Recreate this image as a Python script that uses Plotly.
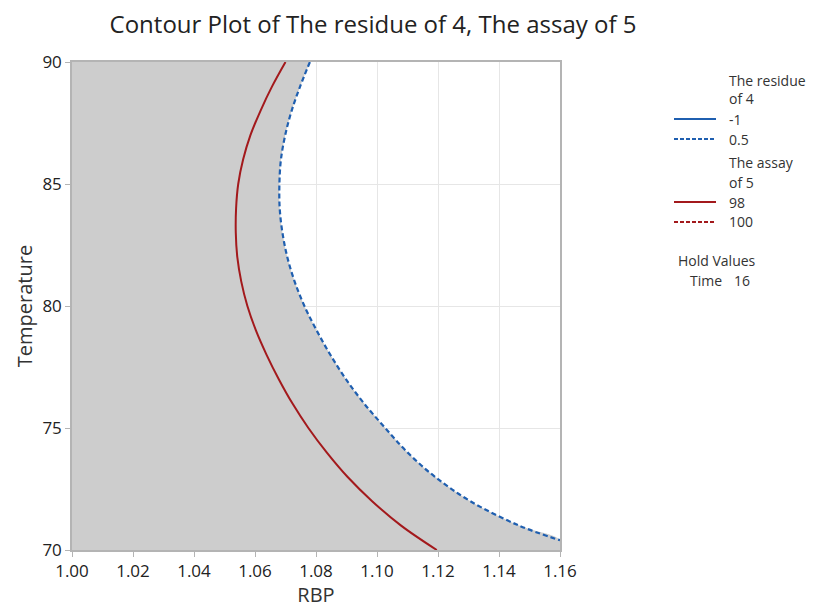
import plotly.graph_objects as go

temp_grid = [90, 89, 88, 87, 86, 85, 84, 83, 82, 81, 80, 79, 78, 77, 76, 75, 74, 73, 72, 71]

# The assay of 5 = 98 (solid red)
red_temp = temp_grid + [70]
red_rbp = [1.0700, 1.0656, 1.0618, 1.0585, 1.0561, 1.0545, 1.0538, 1.0537, 1.0542, 1.0555,
           1.0575, 1.0603, 1.0638, 1.0678, 1.0723, 1.0775, 1.0835, 1.0903, 1.0984, 1.1079,
           1.1196]

# The residue of 4 = 0.5 (dashed blue)
blue_temp = temp_grid + [70.40]
blue_rbp = [1.0780, 1.0748, 1.0720, 1.0699, 1.0685, 1.0680, 1.0681, 1.0690, 1.0706, 1.0730,
            1.0762, 1.0802, 1.0847, 1.0898, 1.0958, 1.1027, 1.1100, 1.1190, 1.1306, 1.1466,
            1.1600]

x_range = [1.00, 1.16]
y_range = [70, 90]
x_ticks = [1.00, 1.02, 1.04, 1.06, 1.08, 1.10, 1.12, 1.14, 1.16]
y_ticks = [70, 75, 80, 85, 90]

FONT = "Open Sans"
TXT = "#222222"
GREY_FILL = "#CDCDCD"
BLUE = "#1F5FB0"
RED = "#A3191C"
SMOOTH = 1.0

fig = go.Figure()

# feasible (grey) region: everything left of / below the blue 0.5 contour
fig.add_trace(go.Scatter(x=blue_rbp + [x_range[1]], y=blue_temp + [y_range[0]],
                         fill="tozerox", fillcolor=GREY_FILL, mode="lines",
                         line=dict(width=0, shape="spline", smoothing=SMOOTH),
                         hoverinfo="skip", showlegend=False))

fig.add_trace(go.Scatter(x=red_rbp, y=red_temp, mode="lines",
                         line=dict(color=RED, width=2, shape="spline", smoothing=SMOOTH),
                         showlegend=False))
fig.add_trace(go.Scatter(x=blue_rbp, y=blue_temp, mode="lines",
                         line=dict(color=BLUE, width=2.2, dash="5px,3px", shape="spline", smoothing=SMOOTH),
                         showlegend=False))

fig.update_xaxes(range=x_range, tickvals=x_ticks, ticktext=[f"{v:.2f}" for v in x_ticks],
                 showgrid=True, gridcolor="#E6E6E6", gridwidth=1, zeroline=False,
                 showline=True, linecolor="#B4B4B4", linewidth=1.5, mirror=True,
                 ticks="outside", ticklen=5, tickcolor="#B4B4B4", automargin=False,
                 tickfont=dict(family=FONT, size=17, color=TXT),
                 title=dict(text="RBP", font=dict(family=FONT, size=20, color="#333333"), standoff=6))
fig.update_yaxes(range=y_range, tickvals=y_ticks,
                 showgrid=True, gridcolor="#E6E6E6", gridwidth=1, zeroline=False,
                 showline=True, linecolor="#B4B4B4", linewidth=1.5, mirror=True,
                 ticks="outside", ticklen=5, tickcolor="#B4B4B4", automargin=False,
                 tickfont=dict(family=FONT, size=17, color=TXT),
                 title=dict(text="Temperature", font=dict(family=FONT, size=20, color="#333333"), standoff=4))

W, H = 816, 608
L, R, T, B = 72, 256, 62, 58
pw, ph = W - L - R, H - T - B

def px(xp):
    return (xp - L) / pw

def py(yp):
    return 1 - (yp - T) / ph

annotations = []
shapes = []

def text(xp, yp, s, size=14):
    annotations.append(dict(x=px(xp), y=py(yp), xref="paper", yref="paper", text=s,
                            showarrow=False, xanchor="left", yanchor="middle",
                            font=dict(family=FONT, size=size, color="#333333")))

def sample(yp, color, dash):
    shapes.append(dict(type="line", xref="paper", yref="paper", x0=px(674), x1=px(716),
                       y0=py(yp), y1=py(yp), line=dict(color=color, width=2, dash=dash)))

text(727, 80, "The residue")
text(727, 99, "of 4")
text(727, 119, "-1"); sample(119, BLUE, "solid")
text(727, 139, "0.5"); sample(139, BLUE, "4px,2px")
text(727, 162, "The assay")
text(727, 182, "of 5")
text(727, 202, "98"); sample(202, RED, "solid")
text(727, 222, "100"); sample(222, RED, "4px,2px")
text(676, 260, "Hold Values")
text(688, 280, "Time")
text(732, 280, "16")

fig.update_layout(
    width=W, height=H, margin=dict(l=L, r=R, t=T, b=B),
    paper_bgcolor="white", plot_bgcolor="white",
    title=dict(text="Contour Plot of The residue of 4, The assay of 5",
               font=dict(family=FONT, size=24, color="#222222"),
               x=px(373), xref="paper", xanchor="center", y=1 - 25 / H, yanchor="middle"),
    annotations=annotations, shapes=shapes, showlegend=False,
)

fig.write_html("out.html")
